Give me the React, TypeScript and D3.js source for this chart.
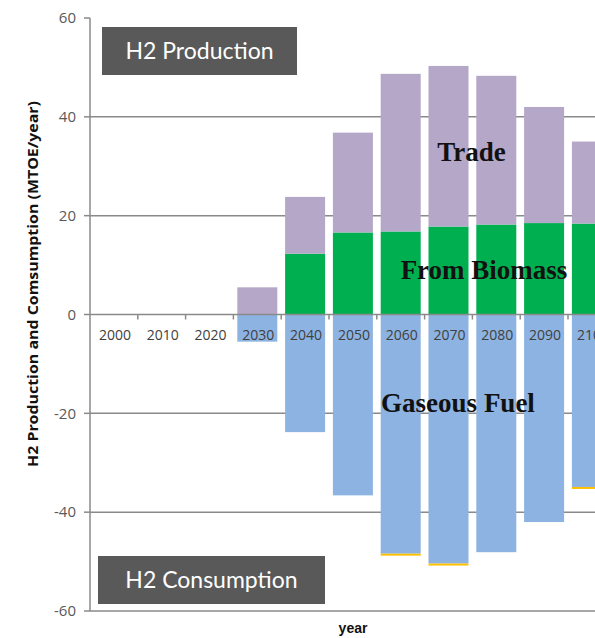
import React from "react";
import * as d3 from "d3";

// Decades on the category axis
const years = ["2000", "2010", "2020", "2030", "2040", "2050", "2060", "2070", "2080", "2090", "2100"];
// Production (MTOE/year)
const fromBiomass = [0, 0, 0, 0, 12.3, 16.6, 16.8, 17.8, 18.2, 18.5, 18.4];
const trade = [0, 0, 0, 5.5, 11.5, 20.2, 31.9, 32.5, 30.1, 23.5, 16.6];
// Consumption (MTOE/year, negative)
const gaseousFuel = [0, 0, 0, -5.5, -23.8, -36.6, -48.4, -50.4, -48.1, -42.0, -34.9];
const otherUse = [0, 0, 0, 0, 0, 0, -0.4, -0.4, 0, 0, -0.4];
const yTicks = [-60, -40, -20, 0, 20, 40, 60];

const W = 595;
const H = 638;
const left = 90;
const step = 47.8;

export default function App() {
  const y = d3.scaleLinear().domain([-60, 60]).range([611, 18]);
  const x = d3
    .scaleBand<string>()
    .domain(years)
    .range([left, left + step * years.length])
    .paddingInner(0.163)
    .paddingOuter(0.0815);
  const bw = x.bandwidth();

  const rows = years.map((yr, i) => ({
    yr,
    bio: fromBiomass[i],
    trade: trade[i],
    gas: gaseousFuel[i],
    other: otherUse[i],
  }));

  const boundaries = years.slice(1).map((yr) => (x(yr) as number) - (step - bw) / 2);

  return (
    <svg
      width={W}
      height={H}
      style={{ position: "absolute", left: 0, top: 0, background: "#fff" }}
      fontFamily="Liberation Sans, Arial, sans-serif"
    >
      {/* horizontal grid */}
      {yTicks
        .filter((t) => t !== 60 && t !== 0)
        .map((t) => (
          <line key={"g" + t} x1={left} x2={W} y1={y(t)} y2={y(t)} stroke="#8a8a8a" strokeWidth={1.5} />
        ))}

      {/* stacked bars */}
      {rows.map((r) => {
        const bx = x(r.yr) as number;
        return (
          <g key={r.yr}>
            {r.bio > 0 && (
              <rect x={bx} width={bw} y={y(r.bio)} height={y(0) - y(r.bio)} fill="#00b050" />
            )}
            {r.trade > 0 && (
              <rect
                x={bx}
                width={bw}
                y={y(r.bio + r.trade)}
                height={y(r.bio) - y(r.bio + r.trade)}
                fill="#b4a7c7"
              />
            )}
            {r.gas < 0 && (
              <rect x={bx} width={bw} y={y(0)} height={y(r.gas) - y(0)} fill="#8db3e2" />
            )}
            {r.other < 0 && (
              <rect
                x={bx}
                width={bw}
                y={y(r.gas)}
                height={y(r.gas + r.other) - y(r.gas)}
                fill="#ffc000"
              />
            )}
          </g>
        );
      })}

      {/* y axis */}
      <line x1={left} x2={left} y1={y(60)} y2={y(-60)} stroke="#8a8a8a" strokeWidth={1.5} />
      {yTicks.map((t) => (
        <g key={"t" + t}>
          <line x1={left - 6} x2={left} y1={y(t)} y2={y(t)} stroke="#8a8a8a" strokeWidth={1.5} />
          <text
            x={76}
            y={y(t)}
            dy="0.35em"
            textAnchor="end"
            fontSize={15}
            fill="#595959"
            fontFamily="Open Sans, sans-serif"
          >
            {t}
          </text>
        </g>
      ))}

      {/* category axis at zero */}
      <line x1={left} x2={W} y1={y(0)} y2={y(0)} stroke="#8a8a8a" strokeWidth={1.5} />
      {boundaries.map((b, i) => (
        <line key={"c" + i} x1={b} x2={b} y1={y(0)} y2={y(0) + 5} stroke="#8a8a8a" strokeWidth={1.5} />
      ))}
      {years.map((yr) => (
        <text
          key={"l" + yr}
          x={(x(yr) as number) + bw / 2 + 1}
          y={335}
          dy="0.35em"
          textAnchor="middle"
          fontSize={14}
          fill="#404040"
          fontFamily="Open Sans, sans-serif"
        >
          {yr}
        </text>
      ))}

      {/* series annotations */}
      <g fontFamily="Liberation Serif, Times New Roman, serif" fontWeight="bold" fontSize={27} fill="#111">
        <text x={471.5} y={160.5} textAnchor="middle">
          Trade
        </text>
        <text x={484} y={279} textAnchor="middle">
          From Biomass
        </text>
        <text x={458} y={411.5} textAnchor="middle">
          Gaseous Fuel
        </text>
      </g>

      {/* section boxes */}
      <rect x={102} y={27} width={195} height={48} fill="#595959" />
      <text x={199.5} y={51} dy="0.35em" textAnchor="middle" fontSize={23} fill="#fff" fontFamily="Lato, sans-serif">
        H2 Production
      </text>
      <rect x={98} y={556} width={227} height={48} fill="#595959" />
      <text x={211.5} y={580} dy="0.35em" textAnchor="middle" fontSize={23} fill="#fff" fontFamily="Lato, sans-serif">
        H2 Consumption
      </text>

      {/* axis titles */}
      <text
        transform={`translate(33, 284) rotate(-90)`}
        dy="0.35em"
        textAnchor="middle"
        fontSize={15}
        fontWeight="bold"
        fill="#111"
        fontFamily="Open Sans, sans-serif"
        textLength={366}
        lengthAdjust="spacingAndGlyphs"
      >
        H2 Production and Comsumption (MTOE/year)
      </text>
      <text x={353} y={628} dy="0.35em" textAnchor="middle" fontSize={14} fontWeight="bold" fill="#111">
        year
      </text>
    </svg>
  );
}
